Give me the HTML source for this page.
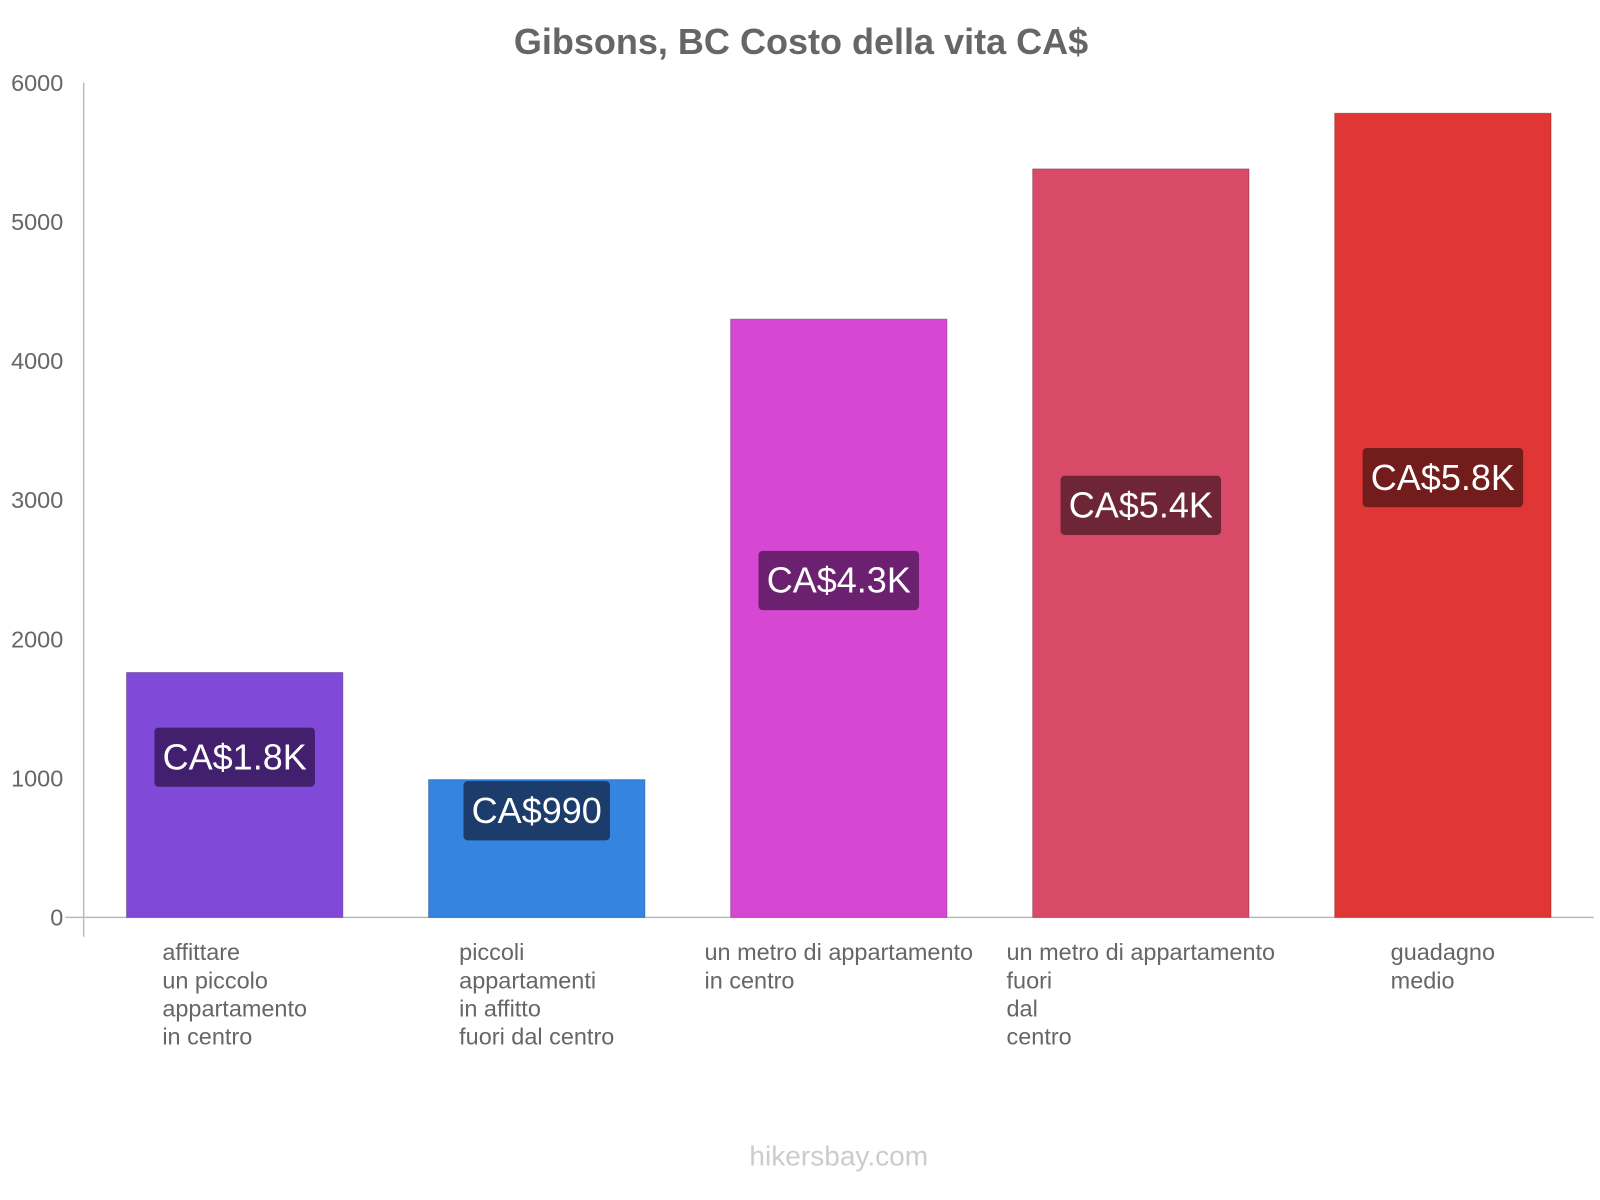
<!DOCTYPE html>
<html><head><meta charset="utf-8"><style>
body{margin:0;background:#fff;overflow:hidden;}
svg{display:block;}
svg text{font-family:"Liberation Sans",Arial,sans-serif;}
</style></head><body>
<svg id="chart" width="1600" height="1200" viewBox="0 0 1568 1176" xmlns="http://www.w3.org/2000/svg">
<text x="785" y="53" text-anchor="middle" font-size="35.3" font-weight="bold" fill="#666">Gibsons, BC Costo della vita CA$</text>
<g id="yaxis"></g>
<g id="bars"></g>
<g id="xlabels"></g>
<text x="822" y="1142" text-anchor="middle" font-size="27.5" fill="#ccc">hikersbay.com</text>
</svg>
<script>
const categories=[["affittare","un piccolo","appartamento","in centro"],["piccoli","appartamenti","in affitto","fuori dal centro"],["un metro di appartamento","in centro"],["un metro di appartamento","fuori","dal","centro"],["guadagno","medio"]];
const values=[1760,990,4300,5380,5780];
const valueLabels=["CA$1.8K","CA$990","CA$4.3K","CA$5.4K","CA$5.8K"];
const yTicks=[0,1000,2000,3000,4000,5000,6000];
const colors=["#8049d8","#3584e0","#d647d2","#d84a68","#e03636"];
const labelColors=["#42206e","#1c3d6b","#6c2070","#6e2636","#721c1c"];
const NS="http://www.w3.org/2000/svg";
const x0=82,band=296,bw=212,yB=899,yT=81,yMax=6000;
const y=v=>yB-(v/yMax)*(yB-yT);
function mk(t,a,p){const e=document.createElementNS(NS,t);for(const k in a)e.setAttribute(k,a[k]);p.appendChild(e);return e;}
const ya=document.getElementById('yaxis'),bg=document.getElementById('bars'),xl=document.getElementById('xlabels');
const ax=mk('line',{x1:x0,y1:yT,x2:x0,y2:918,stroke:'#bbb','stroke-width':1.5},ya);

const bl=mk('line',{x1:64,y1:yB,x2:1562,y2:yB,stroke:'#bbb','stroke-width':1.5},ya);

yTicks.forEach(t=>{const e=mk('text',{x:62,y:y(t)+8,'text-anchor':'end','font-size':23,fill:'#666'},ya);e.textContent=t;
});
values.forEach((v,i)=>{
 const cx=x0+band*i+band/2;
 const r=mk('rect',{x:cx-bw/2,y:y(v),width:bw,height:yB-y(v),fill:colors[i],stroke:labelColors[i],'stroke-opacity':0.4},bg);
 
 const ly=(y(v)+yB)/2-37;
 const g=mk('g',{},bg);
 
 const box=mk('rect',{x:cx,y:ly-29,width:10,height:58,rx:4,fill:labelColors[i]},g);
 const t=mk('text',{x:cx,y:ly+12,'text-anchor':'middle','font-size':35.3,fill:'#fff'},g);t.textContent=valueLabels[i];
 const tw=t.getComputedTextLength()+16;
 box.setAttribute('x',cx-tw/2);box.setAttribute('width',tw);
 const lines=categories[i];
 const tg=mk('text',{x:cx,y:941,'font-size':23,fill:'#666'},xl);
 
 const sps=lines.map((s,j)=>{const sp=mk('tspan',{x:cx,dy:j?27.5:0},tg);sp.textContent=s;return sp;});
 const w=Math.max(...sps.map(s=>s.getComputedTextLength()));
 sps.forEach(s=>s.setAttribute('x',cx-w/2));
});
</script>
</body></html>
